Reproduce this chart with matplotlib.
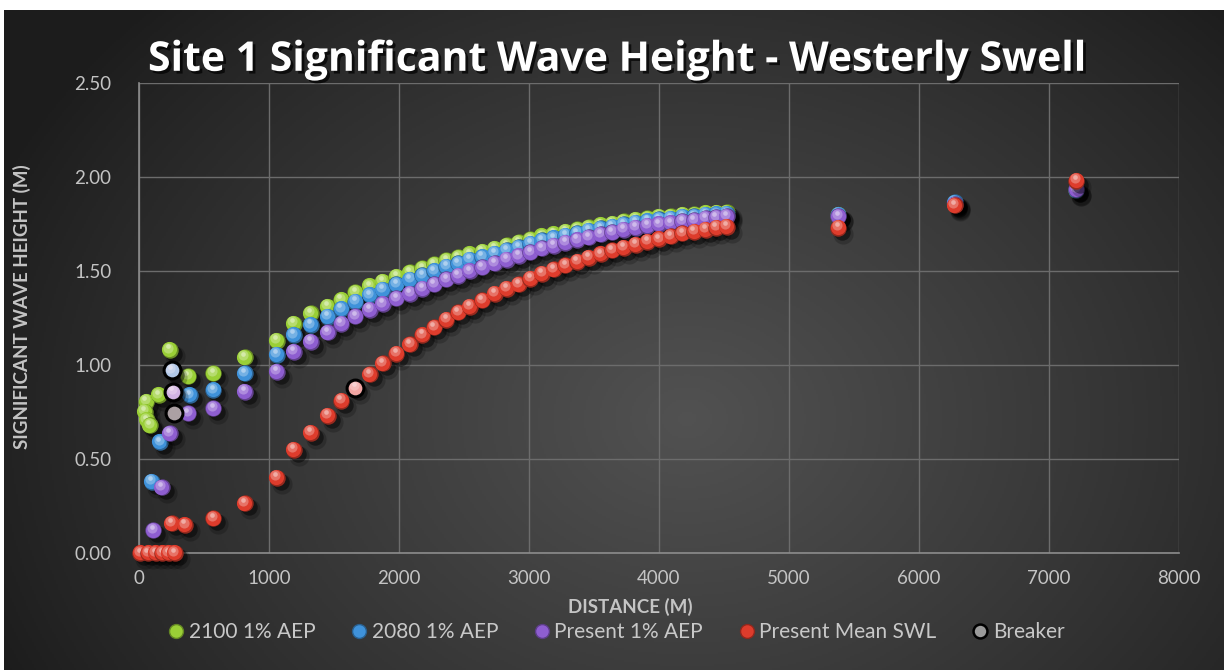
import numpy as np
import matplotlib.pyplot as plt
import matplotlib.patheffects as pe
from matplotlib.transforms import offset_copy
from matplotlib.lines import Line2D
from matplotlib.colors import to_rgb

plt.rcParams['font.family'] = ['Lato', 'DejaVu Sans']

# distance along transect (m) and significant wave height (m)
curve_x = [1060, 1190, 1320, 1450, 1555, 1665, 1775, 1875, 1980, 2085, 2180, 2270,
           2365, 2455, 2545, 2640, 2735, 2830, 2920, 3010, 3100, 3190, 3280, 3370,
           3460, 3550, 3640, 3730, 3820, 3910, 4000, 4090, 4180, 4270, 4360, 4440, 4520]
far_x = [5380, 6275, 7210]

green_x = [55, 45, 60, 85, 150, 238, 379, 572, 815] + curve_x + far_x
green_y = [0.805, 0.752, 0.707, 0.68, 0.84, 1.08, 0.94, 0.955, 1.04,
           1.13, 1.22, 1.275, 1.31, 1.346, 1.387, 1.42, 1.443, 1.47, 1.494, 1.515, 1.536,
           1.557, 1.572, 1.59, 1.603, 1.619, 1.636, 1.652, 1.669, 1.686, 1.697, 1.709, 1.721,
           1.733, 1.745, 1.752, 1.764, 1.772, 1.78, 1.788, 1.791, 1.799, 1.802, 1.809, 1.811, 1.812,
           1.80, 1.86, 1.93]

blue_x = [98, 162, 250, 392, 572, 815] + curve_x + far_x
blue_y = [0.38, 0.59, 0.97, 0.84, 0.867, 0.956,
          1.055, 1.16, 1.213, 1.257, 1.298, 1.337, 1.372, 1.401, 1.43, 1.454, 1.477, 1.50,
          1.523, 1.54, 1.56, 1.575, 1.592, 1.61, 1.627, 1.645, 1.663, 1.675, 1.688, 1.701,
          1.714, 1.727, 1.735, 1.748, 1.757, 1.766, 1.775, 1.779, 1.788, 1.792, 1.80, 1.803, 1.805,
          1.80, 1.865, 1.93]

purple_x = [110, 175, 238, 262, 379, 572, 815] + curve_x + far_x
purple_y = [0.12, 0.35, 0.637, 0.86, 0.743, 0.77, 0.858,
            0.965, 1.07, 1.125, 1.175, 1.22, 1.26, 1.295, 1.325, 1.355, 1.38, 1.405, 1.43,
            1.455, 1.475, 1.50, 1.52, 1.54, 1.56, 1.58, 1.60, 1.62, 1.635, 1.65, 1.665,
            1.68, 1.695, 1.705, 1.72, 1.73, 1.74, 1.75, 1.755, 1.765, 1.77, 1.78, 1.785, 1.79,
            1.79, 1.855, 1.935]

red_x = [10, 70, 130, 180, 230, 275, 251, 354, 572, 815] + curve_x + far_x
red_y = [0, 0, 0, 0, 0, 0, 0.158, 0.149, 0.185, 0.264,
         0.40, 0.55, 0.64, 0.73, 0.81, 0.88, 0.95, 1.01, 1.06, 1.11, 1.16, 1.20,
         1.24, 1.28, 1.31, 1.345, 1.38, 1.405, 1.43, 1.46, 1.485, 1.51, 1.53, 1.55,
         1.57, 1.59, 1.61, 1.625, 1.64, 1.655, 1.67, 1.685, 1.70, 1.71, 1.72, 1.73, 1.735,
         1.73, 1.85, 1.98]

breaker_x = [250, 260, 272, 1665]
breaker_y = [0.973, 0.858, 0.743, 0.879]

series = [
    ('2100 1% AEP', green_x, green_y, '#9acf36'),
    ('2080 1% AEP', blue_x, blue_y, '#3f92da'),
    ('Present 1% AEP', purple_x, purple_y, '#8e5ed0'),
    ('Present Mean SWL', red_x, red_y, '#de3c2c'),
]

W, H = 1224, 670
fig = plt.figure(figsize=(W / 100, H / 100), dpi=100, facecolor='white')

# dark panel with a soft radial glow
bg = fig.add_axes([4 / W, 0, 1 - 4 / W, 660 / H])
bg.axis('off')
gy, gx = np.mgrid[0:1:330j, 0:1:610j]
r = np.sqrt(((gx - 0.56) / 0.62) ** 2 + ((gy - 0.62) / 0.9) ** 2)
t = np.clip(1 - r, 0, 1) ** 0.9
dark = np.array([0.11, 0.11, 0.11])
light = np.array([0.32, 0.32, 0.32])
bg.imshow(dark + (light - dark) * t[..., None], extent=(0, 1, 0, 1), aspect='auto', origin='upper')

ax = fig.add_axes([139 / W, 117 / H, 1040 / W, 470 / H])
ax.set_facecolor('none')
ax.set_xlim(0, 8000)
ax.set_ylim(0, 2.5)
ax.set_xticks(range(0, 8001, 1000))
ax.set_yticks([0, 0.5, 1.0, 1.5, 2.0, 2.5])
ax.set_yticklabels(['%.2f' % v for v in ax.get_yticks()])
ax.grid(True, color='#6c6c6c', lw=1)
ax.set_axisbelow(True)
for s in ['top', 'right']:
    ax.spines[s].set_visible(False)
for s in ['left', 'bottom']:
    ax.spines[s].set_color('#8c8c8c')
    ax.spines[s].set_linewidth(1.2)
ax.tick_params(length=0, colors='#c4c4c4', labelsize=13.5)
ax.tick_params(axis='y', pad=20)
ax.tick_params(axis='x', pad=12)

S = 140


def shift(dx, dy):
    return offset_copy(ax.transData, fig=fig, x=dx, y=dy, units='dots')


def balls(x, y, color, z):
    c = np.array(to_rgb(color))
    shade = c * 0.68
    lite = c + (1 - c) * 0.28
    spec = c + (1 - c) * 0.65
    ax.scatter(x, y, s=S * 1.5, c='black', alpha=0.2, lw=0, transform=shift(5, -6), zorder=z, clip_on=False)
    ax.scatter(x, y, s=S, c='black', alpha=0.45, lw=0, transform=shift(4, -4), zorder=z, clip_on=False)
    for xi, yi in zip(x, y):
        ax.scatter([xi], [yi], s=S, c=[shade], lw=0, zorder=z + 0.1, clip_on=False)
        ax.scatter([xi], [yi], s=S * 0.85, c=[c], lw=0, transform=shift(-0.6, 0.6), zorder=z + 0.1, clip_on=False)
        ax.scatter([xi], [yi], s=S * 0.38, c=[lite], lw=0, transform=shift(-1.5, 2.4), zorder=z + 0.1, clip_on=False)
        ax.scatter([xi], [yi], s=S * 0.08, c=[spec], lw=0, alpha=0.8, transform=shift(-1.8, 3.5), zorder=z + 0.1, clip_on=False)


for i, (name, x, y, col) in enumerate(series):
    balls(x, y, col, 3 + i)

# breaking points
ax.scatter(breaker_x, breaker_y, s=S * 1.05, facecolor=(1, 0.93, 0.95, 0.6), edgecolor='black',
           lw=2.2, zorder=10, clip_on=False)

fig.text(0.505, 0.910, 'Site 1 Significant Wave Height - Westerly Swell', fontsize=29.5,
         fontweight='bold', color='white', ha='center', va='center', family=['Open Sans', 'DejaVu Sans'],
         path_effects=[pe.withSimplePatchShadow(offset=(2, -2), shadow_rgbFace='black', alpha=0.7)])
fig.text(22 / W, 1 - 307 / H, 'SIGNIFICANT WAVE HEIGHT (M)', rotation=90, fontsize=13.5,
         fontweight='bold', color='#c4c4c4', ha='center', va='center')
fig.text(630 / W, 1 - 607 / H, 'DISTANCE (M)', fontsize=13.5, fontweight='bold',
         color='#c4c4c4', ha='center', va='center')

handles = []
for name, x, y, col in series:
    c = np.array(to_rgb(col))
    handles.append(Line2D([], [], marker='o', ls='', markersize=10, markerfacecolor=col,
                          markeredgecolor=c * 0.65, label=name))
handles.append(Line2D([], [], marker='o', ls='', markersize=10, markerfacecolor='#9a9a9a',
                      markeredgecolor='black', markeredgewidth=1.8, label='Breaker'))
fig.legend(handles=handles, loc='center left', bbox_to_anchor=(147 / W, 1 - 632 / H), ncol=5,
           frameon=False, fontsize=15, labelcolor='#c8c8c8', handletextpad=0.1,
           columnspacing=1.6, handlelength=1.0)

fig.savefig('out.png', dpi=100, facecolor='white')
